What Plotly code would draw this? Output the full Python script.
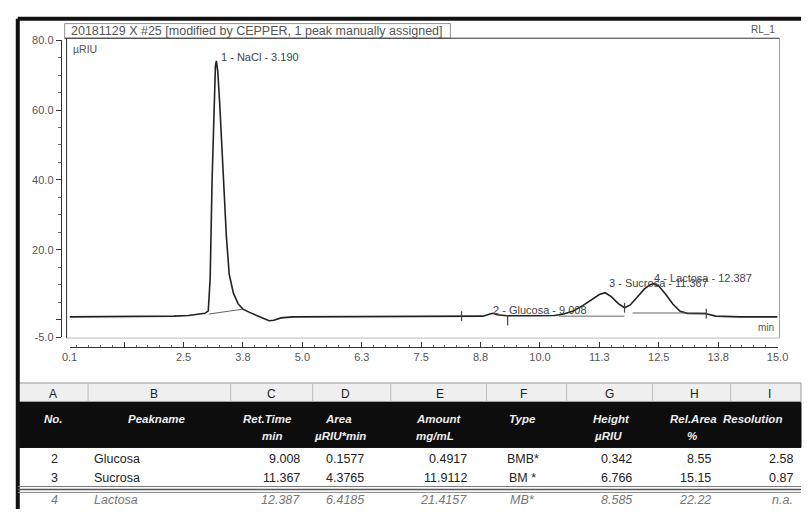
import plotly.graph_objects as go

W, H = 812, 515

# ---------------- data ----------------
signal_time = [0.1, 1.0, 2.0, 2.3, 2.6, 2.8, 2.95, 3.02, 3.06, 3.10, 3.14, 3.17, 3.19, 3.22,
               3.26, 3.30, 3.35, 3.40, 3.46, 3.55, 3.65, 3.75, 3.90, 4.05, 4.20, 4.30, 4.40,
               4.55, 4.8, 6.0, 7.5, 8.2, 8.35, 8.5, 8.8, 8.95, 9.01, 9.1, 9.3, 9.8, 10.3,
               10.5, 10.7, 10.9, 11.1, 11.25, 11.37, 11.5, 11.65, 11.78, 11.9, 12.05, 12.2,
               12.32, 12.39, 12.5, 12.65, 12.8, 12.95, 13.1, 13.3, 13.5, 13.7, 14.2, 15.0]
signal_value = [0.8, 0.8, 0.8, 1.0, 1.2, 1.5, 1.8, 2.5, 12.0, 40.0, 64.0, 72.5, 74.1, 71.0,
                62.0, 52.0, 40.0, 24.0, 13.0, 7.5, 4.5, 3.0, 2.0, 1.2, 0.3, -0.3, -0.2,
                0.5, 0.8, 0.8, 0.8, 0.8, 1.0, 0.9, 1.0, 1.6, 1.8, 1.4, 1.1, 1.1, 1.2,
                1.6, 2.5, 4.0, 5.8, 7.2, 7.7, 6.6, 4.6, 3.4, 4.2, 6.5, 8.8,
                10.0, 10.3, 9.6, 7.2, 4.4, 2.4, 1.8, 1.7, 1.7, 1.0, 0.8, 0.8]

# integration baselines (start/end time, start/end value)
nacl_base_t = [3.03, 3.75]
nacl_base_v = [1.6, 3.0]
sugar_base_t = [10.4, 11.78]
sugar_base_v = [1.0, 1.0]
lact_base_t = [11.95, 13.5]
lact_base_v = [1.9, 1.9]
delim_t = [8.35, 9.32, 11.78, 13.5]
delim_v = [1.0, -0.3, 3.4, 1.7]

peak_label_text = ["1 - NaCl - 3.190", "2 - Glucosa - 9.008",
                   "3 - Sucrosa - 11.367", "4 - Lactosa - 12.387"]
peak_label_t = [3.24, 8.98, 11.42, 12.36]
peak_label_v = [75.3, 2.9, 10.4, 11.9]

x_tickvals = [0.1, 1.25, 2.5, 3.75, 5.0, 6.25, 7.5, 8.75, 10.0, 11.25, 12.5, 13.75, 15.0]
x_ticktext = ["0.1", "", "2.5", "3.8", "5.0", "6.3", "7.5", "8.8", "10.0", "11.3", "12.5", "13.8", "15.0"]
y_tickvals = [-5, 0, 20, 40, 60, 80]
y_ticktext = ["-5.0", "", "20.0", "40.0", "60.0", "80.0"]

chart_title = "20181129 X #25 [modified by CEPPER, 1 peak manually assigned]"

col_letters = ["A", "B", "C", "D", "E", "F", "G", "H", "I"]
header1 = ["No.", "Peakname", "Ret.Time", "Area", "Amount", "Type", "Height", "Rel.Area", "Resolution"]
header2 = ["", "", "min", "µRIU*min", "mg/mL", "", "µRIU", "%", ""]
peak_no = ["2", "3", "4"]
peak_name = ["Glucosa", "Sucrosa", "Lactosa"]
ret_time = ["9.008", "11.367", "12.387"]
area = ["0.1577", "4.3765", "6.4185"]
amount = ["0.4917", "11.9112", "21.4157"]
ptype = ["BMB*", "BM *", "MB*"]
height = ["0.342", "6.766", "8.585"]
rel_area = ["8.55", "15.15", "22.22"]
resolution = ["2.58", "0.87", "n.a."]

# ---------------- helpers ----------------
def X(px):
    return px / W

def Y(py):
    return 1 - py / H

shapes = []
annotations = []
FONT = "Liberation Sans, Arial"

def line(x0, y0, x1, y1, color="#222", width=1):
    shapes.append(dict(type="line", xref="paper", yref="paper",
                       x0=X(x0), y0=Y(y0), x1=X(x1), y1=Y(y1),
                       line=dict(color=color, width=width)))

def rect(x0, y0, x1, y1, fill=None, color="#222", width=1):
    d = dict(type="rect", xref="paper", yref="paper",
             x0=X(x0), y0=Y(y0), x1=X(x1), y1=Y(y1), layer="below",
             line=dict(color=color, width=width))
    if fill:
        d["fillcolor"] = fill
    shapes.append(d)

def text(s, x, y, size=11, color="#333", xanchor="center", italic=False, bold=False):
    t = s
    if bold:
        t = "<b>" + t + "</b>"
    if italic:
        t = "<i>" + t + "</i>"
    annotations.append(dict(text=t, x=X(x), y=Y(y), xref="paper", yref="paper",
                            xanchor=xanchor, yanchor="middle", showarrow=False,
                            font=dict(size=size, color=color, family=FONT)))

# ---------------- chart ----------------
fig = go.Figure()
fig.add_trace(go.Scatter(x=signal_time, y=signal_value, mode="lines",
                         line=dict(color="#222", width=1.6), hoverinfo="skip"))
for bt, bv in [(nacl_base_t, nacl_base_v), (sugar_base_t, sugar_base_v), (lact_base_t, lact_base_v)]:
    fig.add_trace(go.Scatter(x=bt, y=bv, mode="lines",
                             line=dict(color="#555", width=0.9), hoverinfo="skip"))
fig.add_trace(go.Scatter(x=delim_t, y=delim_v, mode="markers",
                         marker=dict(symbol="line-ns", size=7, line=dict(color="#444", width=1.2)),
                         hoverinfo="skip"))

for s, t, v in zip(peak_label_text, peak_label_t, peak_label_v):
    annotations.append(dict(text=s, x=t, y=v, xref="x", yref="y", xanchor="left",
                            yanchor="middle", showarrow=False,
                            font=dict(size=11, color="#444", family=FONT)))

# frames
line(10, 13, 812, 13, color="#111", width=4)
line(10, 13, 10, 515, color="#111", width=4)
rect(58, 18, 453, 33, color="#777", width=0.8)
line(58, 33, 790, 33, color="#333", width=1)
line(60, 33, 60, 340, color="#333", width=1)
line(790, 33, 790, 340, color="#888", width=0.8)
line(60, 340, 790, 340, color="#aaa", width=0.8)

text(chart_title, 62, 25.5, size=12.5, color="#555", xanchor="left")
text("RL_1", 787, 24, size=10, color="#555", xanchor="right")
text("µRIU", 65, 44, size=10.5, color="#555", xanchor="left")
text("min", 786, 329, size=10, color="#555", xanchor="right")

# ---------------- table ----------------
col_dividers = [82, 228, 312, 392, 490, 572, 660, 740]
letter_x = [46, 150, 270, 346, 442, 528, 616, 703, 780]

rect(10, 386, 812, 405, fill="#efefef", color="#999", width=1)
for e in col_dividers:
    line(e, 387, e, 405, color="#bbb", width=1)
rect(10, 406, 812, 452, fill="#0d0d0d", color="#0d0d0d", width=1)
line(10, 492, 812, 492, color="#777", width=1)
line(10, 495, 812, 495, color="#555", width=1.5)
line(10, 498, 812, 498, color="#888", width=1)

for L, x in zip(col_letters, letter_x):
    text(L, x, 397, size=12, color="#222")

h1_x = [47, 153, 266, 338, 441, 527, 618, 702, 730]
h1_anchor = ["center"] * 8 + ["left"]
for s, x, a in zip(header1, h1_x, h1_anchor):
    text(s, x, 423, size=11.5, color="#eeeeee", xanchor=a, italic=True, bold=True)
h2_x = [47, 153, 270, 340, 437, 527, 614, 700, 780]
for s, x in zip(header2, h2_x):
    if s:
        text(s, x, 440, size=11.5, color="#eeeeee", italic=True, bold=True)

row_y = [464, 483, 506]
for r in range(3):
    it = (r == 2)
    col = "#777" if it else "#222"
    text(peak_no[r], 48, row_y[r], size=12.5, color=col, italic=it)
    text(peak_name[r], 86, row_y[r], size=12.5, color=col, xanchor="left", italic=it)
    text(ret_time[r], 301, row_y[r], size=12.5, color=col, xanchor="right", italic=it)
    text(area[r], 367, row_y[r], size=12.5, color=col, xanchor="right", italic=it)
    text(amount[r], 472, row_y[r], size=12.5, color=col, xanchor="right", italic=it)
    text(ptype[r], 527, row_y[r], size=12.5, color=col, italic=it)
    text(height[r], 641, row_y[r], size=12.5, color=col, xanchor="right", italic=it)
    text(rel_area[r], 722, row_y[r], size=12.5, color=col, xanchor="right", italic=it)
    text(resolution[r], 806, row_y[r], size=12.5, color=col, xanchor="right", italic=it)

fig.update_layout(
    width=W, height=H, margin=dict(l=0, r=0, t=0, b=0),
    paper_bgcolor="white", plot_bgcolor="rgba(0,0,0,0)",
    showlegend=False, shapes=shapes, annotations=annotations,
    xaxis=dict(domain=[X(63), X(788)], range=[0.1, 15.0], anchor="free", position=Y(349),
               showline=True, linecolor="#333", linewidth=1, showgrid=False, zeroline=False,
               tickmode="array", tickvals=x_tickvals, ticktext=x_ticktext,
               ticks="inside", ticklen=5, tickcolor="#333",
               minor=dict(dtick=0.25, tick0=0.0, ticks="inside", ticklen=2, tickcolor="#666", showgrid=False),
               tickfont=dict(size=11, color="#555", family=FONT)),
    yaxis=dict(domain=[Y(339), Y(35)], range=[-5, 80], anchor="free", position=X(54),
               showline=True, linecolor="#333", linewidth=1, showgrid=False, zeroline=False,
               tickmode="array", tickvals=y_tickvals, ticktext=y_ticktext,
               ticks="outside", ticklen=5, tickcolor="#333",
               minor=dict(dtick=5, tick0=0, ticks="outside", ticklen=3, tickcolor="#666", showgrid=False),
               tickfont=dict(size=11, color="#555", family=FONT)),
)

fig.write_html("out.html")
